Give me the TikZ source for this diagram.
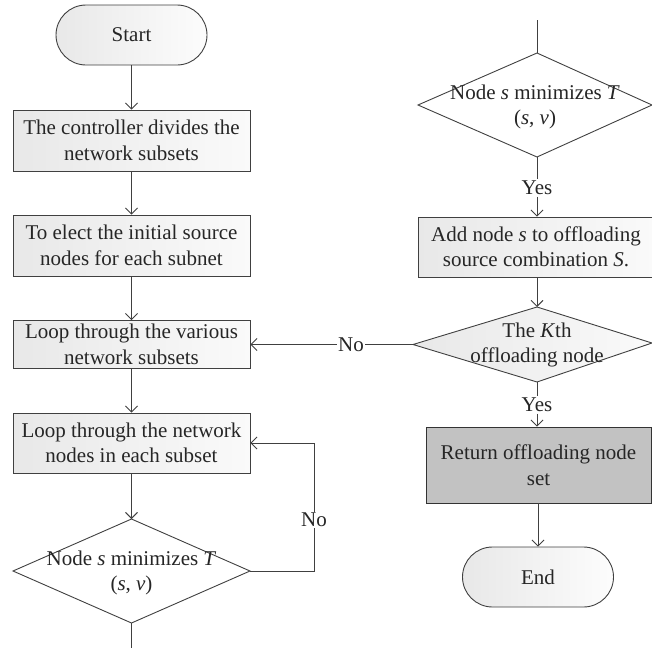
\documentclass[tikz,border=0pt]{standalone}
\usepackage{fontspec}
\setmainfont{Liberation Serif}
\usetikzlibrary{arrows.meta,positioning}
\begin{document}
\begin{tikzpicture}[x=1pt,y=-1pt,
  every node/.style={font=\fontsize{21}{25.5}\selectfont, text=black!85},
  line/.style={draw=black!75, line width=0.9pt},
  arr/.style={line, -{Straight Barb[length=6pt,width=12pt]}},
  procbox/.style={rectangle, draw=black!75, line width=0.9pt, left color=black!9, right color=black!2, align=center, inner sep=0pt},
  graybox/.style={rectangle, draw=black!80, line width=0.9pt, fill=black!24, align=center, inner sep=0pt},
  term/.style={rectangle, rounded corners=30pt, draw=black!75, line width=0.9pt, left color=black!9, right color=black!1, inner sep=0pt, minimum width=151pt, minimum height=60pt},
  dshape/.style={draw=black!75, line width=0.9pt, line join=miter},
  dtext/.style={align=center, inner sep=0pt},
  lbl/.style={fill=white, inner sep=1.5pt}
]
\useasboundingbox (0,0) rectangle (651,656);

% left column
\node[term] (start) at (131.5,35) {Start};
\node[procbox, minimum width=237pt, minimum height=61pt] (b1) at (131.5,140.5) {The controller divides the\\network subsets};
\node[procbox, minimum width=237pt, minimum height=61pt] (b2) at (131.5,245.5) {To elect the initial source\\nodes for each subnet};
\node[procbox, minimum width=237pt, minimum height=48pt] (b3) at (131.5,344.5) {Loop through the various\\network subsets};
\node[procbox, minimum width=237pt, minimum height=60pt] (b4) at (131.5,443) {Loop through the network\\nodes in each subset};

% decision 1
\coordinate (d1n) at (131.5,519);
\coordinate (d1e) at (250,571);
\coordinate (d1s) at (131.5,623);
\coordinate (d1w) at (13,571);
\draw[dshape, fill=white] (d1n) -- (d1e) -- (d1s) -- (d1w) -- cycle;
\node[dtext] (d1) at (131.5,573) {Node \textit{s} minimizes \textit{T}\\(\textit{s}, \textit{v})};
\coordinate (d1end) at (131.5,648);
\coordinate (loopc) at (314,443);

\draw[arr] (start) -- (b1);
\draw[arr] (b1) -- (b2);
\draw[arr] (b2) -- (b3);
\draw[arr] (b3) -- (b4);
\draw[arr] (b4) -- (d1n);
\draw[line] (d1s) -- (d1end);
\draw[arr] (d1e) -| (loopc) -- (b4.east);
\node[lbl] (no1) at (314,520) {No};

% right column
\coordinate (rtop) at (537,20);
\coordinate (d2n) at (537,53);
\coordinate (d2e) at (652,105);
\coordinate (d2s) at (537,157);
\coordinate (d2w) at (418,105);
\draw[dshape, fill=white] (d2n) -- (d2e) -- (d2s) -- (d2w) -- cycle;
\node[dtext] (d2) at (535,107) {Node \textit{s} minimizes \textit{T}\\(\textit{s}, \textit{v})};

\node[lbl] (yes1) at (537,188) {Yes};
\node[procbox, minimum width=236pt, minimum height=60pt] (b5) at (536,247) {Add node \textit{s} to offloading\\source combination \textit{S}.};

\coordinate (d3n) at (537,307);
\coordinate (d3e) at (652,343);
\coordinate (d3s) at (537,382);
\coordinate (d3w) at (413,344.5);
\draw[dshape, left color=black!9, right color=black!2] (d3n) -- (d3e) -- (d3s) -- (d3w) -- cycle;
\node[dtext] (d3) at (537,345) {The \textit{K}th\\offloading node};

\node[lbl] (yes2) at (537,405) {Yes};
\node[graybox, minimum width=225pt, minimum height=76pt] (b6) at (538.5,465) {Return offloading node\\set};
\node[term] (end) at (538,577) {End};

\draw[line] (rtop) -- (d2n);
\draw[line] (d2s) -- (yes1.north);
\draw[arr] (yes1.south) -- (yes1.south |- b5.north);
\draw[arr] (b5.south -| d3n) -- (d3n);
\draw[line] (d3s) -- (yes2.north);
\draw[arr] (yes2.south) -- (yes2.south |- b6.north);
\draw[arr] (b6.south -| end) -- (end.north);
\draw[arr] (d3w) -- (d3w -| b3.east);
\node[lbl] (no2) at (351,344.5) {No};
\end{tikzpicture}
\end{document}
